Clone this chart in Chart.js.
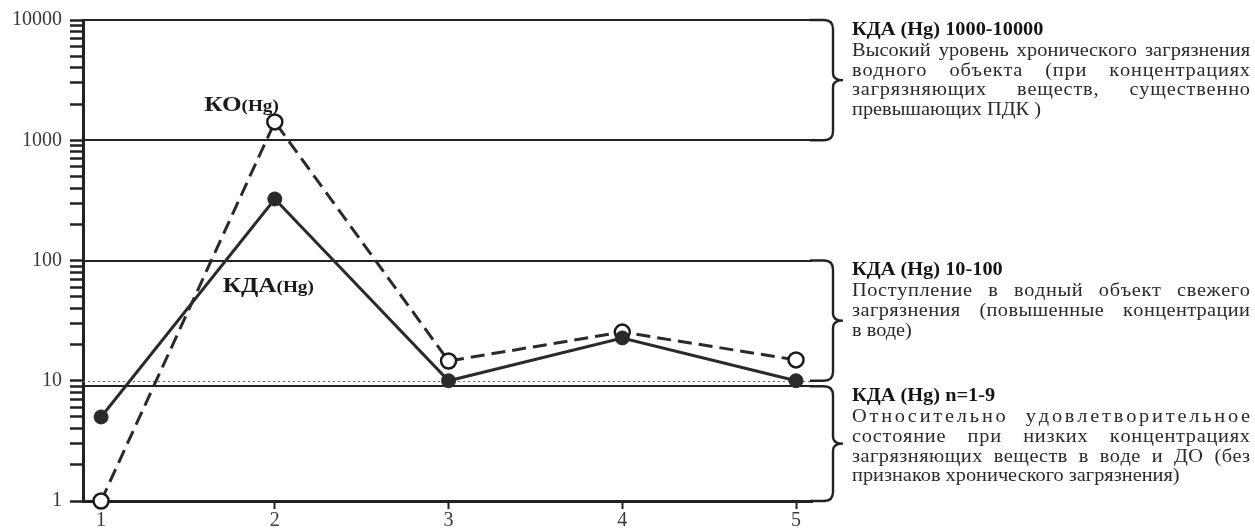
<!DOCTYPE html>
<html>
<head>
<meta charset="utf-8">
<script src="https://cdn.jsdelivr.net/npm/chart.js@4.4.0/dist/chart.umd.min.js"></script>
<style>
  html, body { margin: 0; padding: 0; background: #fff; }
  #wrap { width: 1255px; height: 531px; }
</style>
</head>
<body>
<div id="wrap"><canvas id="kdaChart" width="1255" height="531"></canvas></div>
<script>
// values
const categories = [1, 2, 3, 4, 5];
const kdaValues = [5, 325, 10, 22.7, 10];
const koValues = [1, 1420, 14.6, 25.4, 14.9];
const yTickLabels = [1, 10, 100, 1000, 10000];
const levelLines = [10000, 1000, 100, 9];
const pdkLevel = 10;
const bandRanges = [[1000, 10000], [10, 100], [1, 9]];
const bandTitles = ['КДА (Hg) 1000-10000', 'КДА (Hg) 10-100', 'КДА (Hg) n=1-9'];
const bandTexts = [
    ['Высокий уровень хронического загрязнения', 'водного объекта (при концентрациях', 'загрязняющих веществ, существенно', 'превышающих ПДК )'],
    ['Поступление в водный объект свежего', 'загрязнения (повышенные концентрации', 'в воде)'],
    ['Относительно удовлетворительное', 'состояние при низких концентрациях', 'загрязняющих веществ в воде и ДО (без', 'признаков хронического загрязнения)']
];

const INK = '#222';
const SERIF = '"Liberation Serif", "Times New Roman", serif';
const STRETCH = 1.13;

function stretchedText(ctx, text, x, y, sx) {
    ctx.save();
    ctx.translate(x, y);
    ctx.scale(sx, 1);
    ctx.fillText(text, 0, 0);
    ctx.restore();
}

// justified line: extra room goes partly into letters, partly into word gaps
function justifyLine(ctx, text, x, y, width) {
    const chars = text.split('');
    const widths = chars.map(c => ctx.measureText(c).width * STRETCH);
    const natural = widths.reduce((a, b) => a + b, 0);
    const spaces = chars.filter(c => c === ' ').length;
    const extra = width - natural;
    let share = spaces <= 1 ? 0.9 : 0.35;
    if (extra < 0) share = 0;
    const ls = extra * share / (chars.length - 1);
    const spaceExtra = spaces ? extra * (1 - share) / spaces : 0;
    let cx = x;
    chars.forEach((c, i) => {
        if (c !== ' ') stretchedText(ctx, c, cx, y, STRETCH);
        cx += widths[i] + ls + (c === ' ' ? spaceExtra : 0);
    });
}

const levelsPlugin = {
    id: 'levels',
    beforeDatasetsDraw(chart) {
        const { ctx, chartArea, scales } = chart;
        ctx.save();
        ctx.strokeStyle = INK;
        ctx.lineWidth = 2;
        levelLines.forEach(v => {
            const y = Math.round(scales.y.getPixelForValue(v));
            ctx.beginPath();
            ctx.moveTo(chartArea.left, y);
            ctx.lineTo(chartArea.right, y);
            ctx.stroke();
        });
        // dotted line at 10
        const yd = Math.round(scales.y.getPixelForValue(pdkLevel)) + 0.5;
        ctx.strokeStyle = '#666';
        ctx.lineWidth = 1.2;
        ctx.setLineDash([2, 3]);
        ctx.beginPath();
        ctx.moveTo(chartArea.left, yd);
        ctx.lineTo(chartArea.right, yd);
        ctx.stroke();
        ctx.restore();
    },
    afterDraw(chart) {
        const { ctx, chartArea, scales } = chart;
        const x0 = chartArea.right;
        const xv = x0 + 21;
        const r = 9;
        ctx.save();
        ctx.strokeStyle = INK;
        ctx.lineWidth = 2.4;
        bandRanges.forEach((band, i) => {
            const yBot = scales.y.getPixelForValue(band[0]);
            const yTop = scales.y.getPixelForValue(band[1]);
            const yMid = (yTop + yBot) / 2;
            ctx.beginPath();
            ctx.moveTo(x0 - 2, yTop);
            ctx.lineTo(xv - r, yTop);
            ctx.quadraticCurveTo(xv, yTop, xv, yTop + r);
            ctx.lineTo(xv, yMid - 7);
            ctx.quadraticCurveTo(xv, yMid, xv + 10, yMid);
            ctx.quadraticCurveTo(xv, yMid, xv, yMid + 7);
            ctx.lineTo(xv, yBot - r);
            ctx.quadraticCurveTo(xv, yBot, xv - r, yBot);
            ctx.lineTo(x0 - 2, yBot);
            ctx.stroke();

            // texts
            const tx = xv + 19;
            const tw = chart.width - 5 - tx;
            let ty = yTop + 10;
            ctx.textBaseline = 'middle';
            ctx.fillStyle = '#151515';
            ctx.font = 'bold 18px ' + SERIF;
            stretchedText(ctx, bandTitles[i], tx, ty, STRETCH);
            ty += 21;
            ctx.fillStyle = '#2a2a2a';
            ctx.font = '18px ' + SERIF;
            const lines = bandTexts[i];
            lines.forEach((line, j) => {
                if (j < lines.length - 1) {
                    justifyLine(ctx, line, tx, ty, tw);
                } else {
                    stretchedText(ctx, line, tx, ty, STRETCH);
                }
                ty += 19.8;
            });
        });

        // series names
        ctx.fillStyle = '#1a1a1a';
        ctx.textBaseline = 'alphabetic';
        const koX = scales.x.getPixelForValue(categories[1]);
        const koY = scales.y.getPixelForValue(koValues[1]);
        ctx.font = 'bold 21px ' + SERIF;
        const w1 = ctx.measureText('КО').width * 1.2;
        ctx.font = 'bold 16px ' + SERIF;
        const w2 = ctx.measureText('(Hg)').width * 1.2;
        let lx = koX + 4 - w1 - w2;
        ctx.font = 'bold 21px ' + SERIF;
        stretchedText(ctx, 'КО', lx, koY - 11, 1.2);
        ctx.font = 'bold 16px ' + SERIF;
        stretchedText(ctx, '(Hg)', lx + w1, koY - 11, 1.2);

        lx = scales.x.getPixelForValue(1.7);
        const ly = scales.y.getPixelForValue(55);
        ctx.font = 'bold 21px ' + SERIF;
        const w3 = ctx.measureText('КДА').width * 1.2;
        stretchedText(ctx, 'КДА', lx, ly, 1.2);
        ctx.font = 'bold 16px ' + SERIF;
        stretchedText(ctx, '(Hg)', lx + w3, ly, 1.2);
        ctx.restore();
    }
};

const ctx = document.getElementById('kdaChart').getContext('2d');
new Chart(ctx, {
    type: 'line',
    data: {
        datasets: [
            {
                label: 'КДА(Hg)',
                data: categories.map((c, i) => ({ x: c, y: kdaValues[i] })),
                borderColor: '#2a2a2a',
                borderWidth: 3,
                pointRadius: 7,
                pointBackgroundColor: '#2a2a2a',
                pointBorderColor: '#2a2a2a',
                pointBorderWidth: 1,
                tension: 0,
                clip: false
            },
            {
                label: 'КО(Hg)',
                data: categories.map((c, i) => ({ x: c, y: koValues[i] })),
                borderColor: '#2a2a2a',
                borderWidth: 3,
                borderDash: [14, 7],
                pointRadius: 7.5,
                pointBackgroundColor: '#fff',
                pointBorderColor: '#1a1a1a',
                pointBorderWidth: 2.5,
                tension: 0,
                clip: false
            }
        ]
    },
    options: {
        responsive: false,
        animation: false,
        layout: { padding: { left: 0, right: 443, top: 20, bottom: 0 } },
        plugins: {
            legend: { display: false },
            tooltip: { enabled: false }
        },
        scales: {
            x: {
                type: 'linear',
                min: 0.896,
                max: 5.092,
                afterBuildTicks: scale => {
                    scale.ticks = categories.map(v => ({ value: v }));
                },
                afterFit: scale => { scale.height = 30; },
                border: { display: true, color: INK, width: 3 },
                grid: { drawOnChartArea: false, drawTicks: true, tickLength: 8, tickWidth: 2, tickColor: INK },
                ticks: {
                    padding: 0,
                    color: '#3a3a3a',
                    font: { family: SERIF, size: 20 },
                    callback: v => String(v)
                }
            },
            y: {
                type: 'logarithmic',
                min: 1,
                max: 10000,
                afterBuildTicks: scale => {
                    const list = [];
                    [1, 10, 100, 1000].forEach(d => {
                        for (let m = 1; m <= 9; m++) list.push({ value: m * d });
                    });
                    list.push({ value: 10000 });
                    scale.ticks = list;
                },
                afterFit: scale => { scale.width = 83; },
                border: { display: true, color: INK, width: 3 },
                grid: { drawOnChartArea: false, drawTicks: true, tickLength: 13, tickWidth: 2.5, tickColor: INK },
                ticks: {
                    padding: 8,
                    color: '#3a3a3a',
                    autoSkip: false,
                    font: { family: SERIF, size: 20 },
                    callback: v => yTickLabels.includes(v) ? String(v) : ''
                }
            }
        }
    },
    plugins: [levelsPlugin]
});
</script>
</body>
</html>
